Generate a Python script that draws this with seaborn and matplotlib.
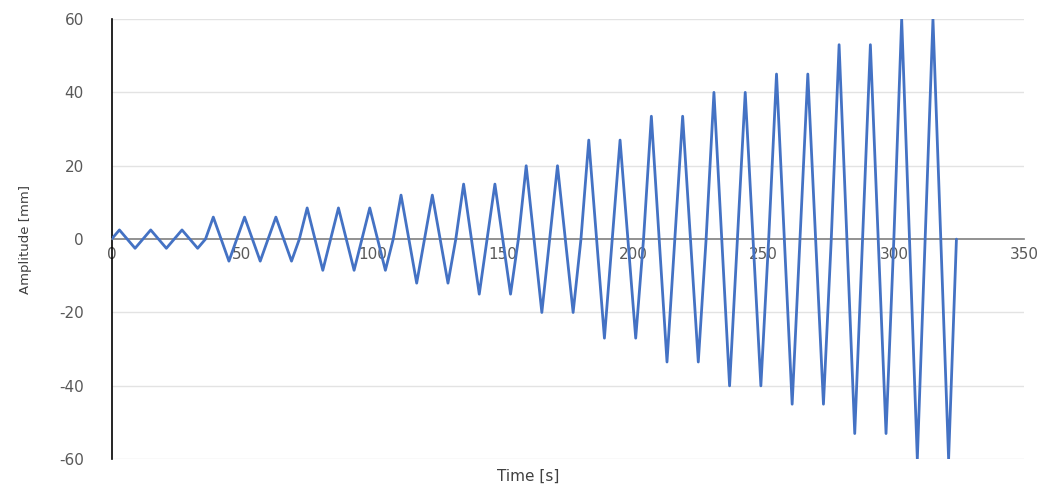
import numpy as np
import pandas as pd
import matplotlib
matplotlib.use("Agg")
import matplotlib.pyplot as plt
import seaborn as sns

# ---------- DATA ----------
# amplitude levels [mm] and number of cycles at each level
levels = [2.5, 6, 8.5, 12, 15, 20, 27, 33.5, 40, 45, 53, 60]
cycles = [3, 3, 3, 2, 2, 2, 2, 2, 2, 2, 2, 2]
period = 12  # s per cycle

x_ticks = [0, 50, 100, 150, 200, 250, 300, 350]
y_ticks = [-60, -40, -20, 0, 20, 40, 60]

# build triangular history: 0 -> +A -> -A -> 0 for each cycle
times = [0.0]
amps = [0.0]
t0 = 0.0
for A, n in zip(levels, cycles):
    for _ in range(n):
        times += [t0 + period / 4, t0 + 3 * period / 4, t0 + period]
        amps += [A, -A, 0.0]
        t0 += period

df = pd.DataFrame({"time": times, "amp": amps})

# ---------- PLOT ----------
sns.set_style("white")
plt.rcParams["axes.unicode_minus"] = False
fig = plt.figure(figsize=(10.43, 4.88), dpi=100)
ax = fig.add_axes([0.107, 0.059, 0.875, 0.902])

for yv in y_ticks:
    if yv != 0:
        ax.axhline(yv, color="#e3e3e3", lw=1, zorder=0)

sns.lineplot(data=df, x="time", y="amp", color="#4472C4", lw=2.0, ax=ax, zorder=3)

ax.set_xlim(0, 350)
ax.set_ylim(-60, 60)
ax.set_xticks(x_ticks)
ax.set_yticks(y_ticks)

ax.spines["top"].set_visible(False)
ax.spines["right"].set_visible(False)
ax.spines["bottom"].set_position(("data", 0))
ax.spines["bottom"].set_color("#7f7f7f")
ax.spines["bottom"].set_linewidth(1.2)
ax.spines["left"].set_color("black")
ax.spines["left"].set_linewidth(1.2)

ax.tick_params(axis="x", direction="out", length=4, color="#7f7f7f",
               labelsize=11, labelcolor="#595959", pad=2)
ax.tick_params(axis="y", direction="in", length=3, color="#7f7f7f",
               labelsize=11, labelcolor="#595959", pad=20)

ax.set_xlabel("")
ax.set_ylabel("")
fig.text(0.506, 0.025, "Time [s]", ha="center", va="center",
         fontsize=11, color="#404040")
fig.text(0.024, 0.51, "Amplitude [mm]", ha="center", va="center",
         rotation=90, fontsize=9.5, color="#404040")

fig.savefig("out.png", dpi=100)
